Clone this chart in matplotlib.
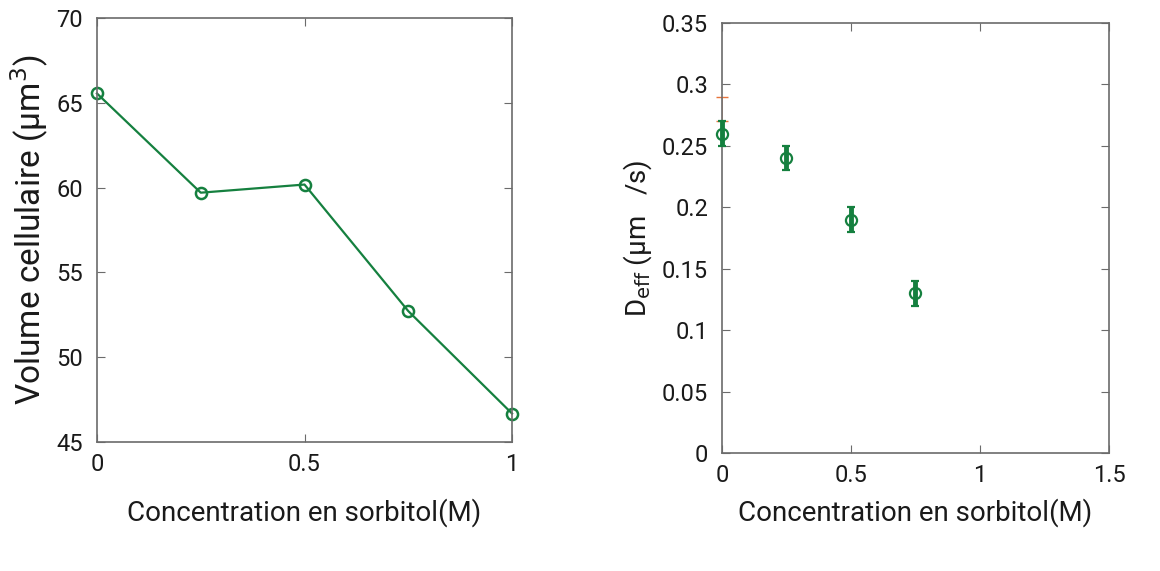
import matplotlib.pyplot as plt

plt.rcParams['font.family'] = ['Roboto', 'DejaVu Sans']

# left panel: cell volume vs sorbitol
conc = [0, 0.25, 0.5, 0.75, 1]
volume = [65.55, 59.7, 60.18, 52.72, 46.68]

# right panel: effective diffusion
conc_d = [0, 0.25, 0.5, 0.75]
d_eff = [0.26, 0.24, 0.19, 0.13]
d_err = [0.01, 0.01, 0.01, 0.01]
# faint orange series hidden behind the y axis
conc_o = [0]
d_o = [0.28]
d_o_err = [0.01]

green = '#15803f'
spine_col = '#6b6b6b'

fig = plt.figure(figsize=(11.6, 5.71), dpi=100)
ax1 = fig.add_axes([0.0836, 0.2259, 0.3578, 0.7426])
ax2 = fig.add_axes([0.6224, 0.2067, 0.3336, 0.7531])

def style(ax):
    for s in ax.spines.values():
        s.set_color(spine_col)
        s.set_linewidth(1.2)
    ax.tick_params(direction='in', top=True, right=True, length=6,
                   color=spine_col, labelsize=17, labelcolor='#1a1a1a')
    ax.tick_params(axis='y', pad=10)
    ax.tick_params(axis='x', pad=8)

# left
ax1.plot(conc, volume, color=green, lw=1.6, marker='o', ms=8, mfc='none',
         mec=green, mew=1.8, clip_on=False)
ax1.set_xlim(0, 1)
ax1.set_ylim(45, 70)
ax1.set_xticks([0, 0.5, 1])
ax1.set_xticklabels(['0', '0.5', '1'])
ax1.set_yticks([45, 50, 55, 60, 65, 70])
style(ax1)
ax1.set_xlabel('Concentration en sorbitol(M)', fontsize=20, labelpad=16, color='#1a1a1a')
ax1.set_ylabel('Volume cellulaire (µm$^3$)', fontsize=24, color='#1a1a1a')
ax1.yaxis.set_label_coords(-0.11, 0.5)

# right
ax2.errorbar(conc_o, d_o, yerr=d_o_err, fmt='none', ecolor='#e8743b',
             elinewidth=0.4, capsize=4, capthick=1, clip_on=False, zorder=1)
ax2.errorbar(conc_d, d_eff, yerr=d_err, fmt='o', color=green, ms=8, mfc='none',
             mec=green, mew=1.6, elinewidth=3.5, capsize=3, capthick=3.5,
             clip_on=False, zorder=3)
ax2.set_xlim(0, 1.5)
ax2.set_ylim(0, 0.35)
ax2.set_xticks([0, 0.5, 1, 1.5])
ax2.set_xticklabels(['0', '0.5', '1', '1.5'])
ax2.set_yticks([0, 0.05, 0.1, 0.15, 0.2, 0.25, 0.3, 0.35])
ax2.set_yticklabels(['0', '0.05', '0.1', '0.15', '0.2', '0.25', '0.3', '0.35'])
style(ax2)
ax2.set_xlabel('Concentration en sorbitol(M)', fontsize=20, labelpad=8, color='#1a1a1a')
ax2.set_ylabel('D$_{\\mathrm{eff}}$ (µm   /s)', fontsize=20, labelpad=6, color='#1a1a1a')

fig.savefig('out.png', dpi=100)
